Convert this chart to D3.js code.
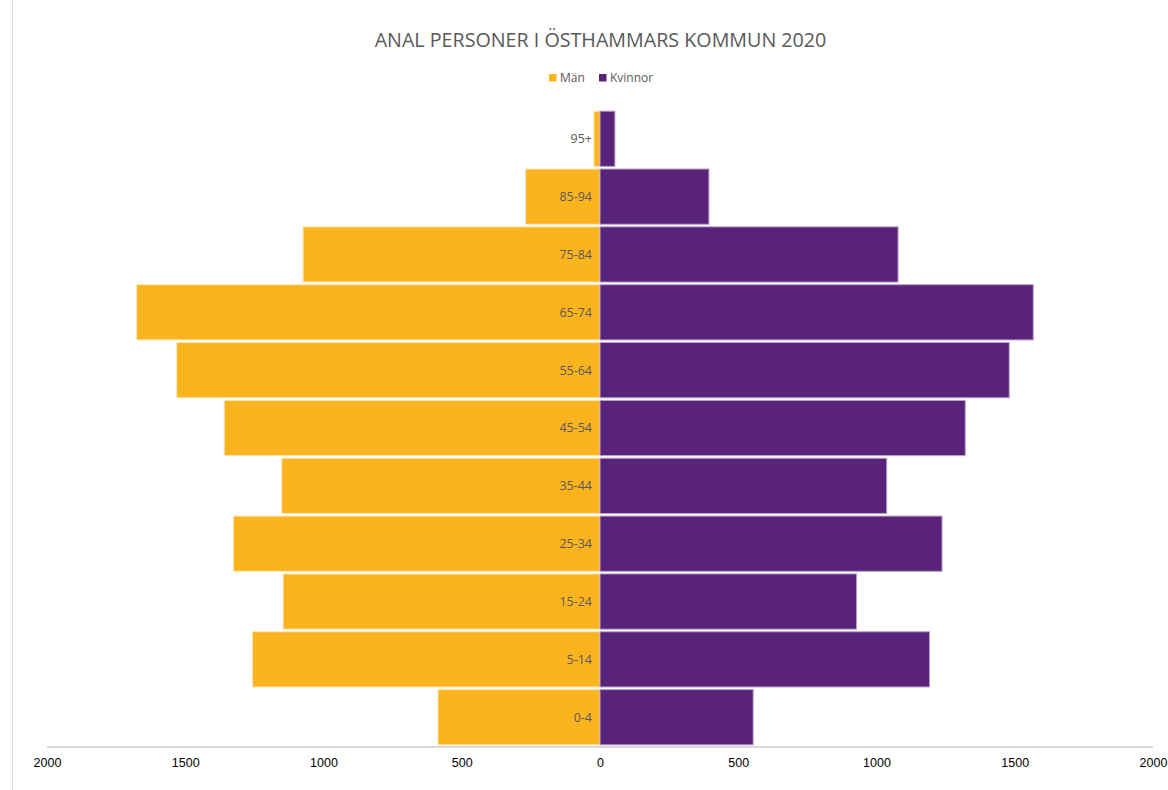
<!DOCTYPE html>
<html>
<head>
<meta charset="utf-8">
<script src="https://cdn.jsdelivr.net/npm/d3@7/dist/d3.min.js"></script>
<style>
  html, body { margin: 0; padding: 0; background: #fff; }
  svg { display: block; }
</style>
</head>
<body>
<svg id="chart" width="1168" height="790"></svg>
<script>
const title = "ANAL PERSONER I ÖSTHAMMARS KOMMUN 2020";
const categories = ["95+", "85-94", "75-84", "65-74", "55-64", "45-54", "35-44", "25-34", "15-24", "5-14", "0-4"];
const man = [22, 269, 1074, 1676, 1531, 1359, 1151, 1326, 1146, 1257, 586];
const kvinnor = [54, 394, 1078, 1567, 1480, 1321, 1037, 1237, 928, 1192, 554];
const seriesNames = ["Män", "Kvinnor"];
const tickValues = [-2000, -1500, -1000, -500, 0, 500, 1000, 1500, 2000];

const colors = { man: "#FBB41D", kvinnor: "#59237A" };
const svg = d3.select("#chart");

// chart frame line on the left
svg.append("line").attr("x1", 12.5).attr("x2", 12.5).attr("y1", 0).attr("y2", 790)
  .attr("stroke", "#d9d9d9").attr("stroke-width", 1);

const x = d3.scaleLinear().domain([-2000, 2000]).range([47, 1153]);
const y = d3.scaleBand().domain(categories).range([110, 746]).paddingInner(0.045).paddingOuter(0.02);

const rows = categories.map((c, i) => ({ cat: c, m: man[i], k: kvinnor[i] }));

svg.append("g").selectAll("rect").data(rows).join("rect")
  .attr("x", d => x(-d.m)).attr("width", d => x(0) - x(-d.m))
  .attr("y", d => y(d.cat)).attr("height", y.bandwidth())
  .attr("fill", colors.man).attr("stroke", "#fde8b8").attr("stroke-width", 1);

svg.append("g").selectAll("rect").data(rows).join("rect")
  .attr("x", x(0)).attr("width", d => x(d.k) - x(0))
  .attr("y", d => y(d.cat)).attr("height", y.bandwidth())
  .attr("fill", colors.kvinnor).attr("stroke", "#b9a2c9").attr("stroke-width", 1);

// category labels
svg.append("g").selectAll("text").data(categories).join("text")
  .attr("x", 592).attr("y", d => y(d) + y.bandwidth() / 2)
  .attr("dy", "0.35em").attr("text-anchor", "end")
  .attr("font-family", "'Open Sans', sans-serif").attr("font-size", 12.5)
  .attr("fill", "#595959").text(d => d);

// axis baseline
svg.append("line").attr("x1", x(-2000)).attr("x2", x(2000)).attr("y1", 747).attr("y2", 747)
  .attr("stroke", "#d9d9d9").attr("stroke-width", 2);

const axis = d3.axisBottom(x).tickValues(tickValues).tickFormat(d => Math.abs(d)).tickSize(0).tickPadding(0);
const ag = svg.append("g").attr("transform", "translate(0,748)").call(axis);
ag.select(".domain").remove();
ag.selectAll("text").attr("dy", null).attr("y", 19)
  .attr("font-family", "'Liberation Sans', Arial, sans-serif").attr("font-size", 12.5).attr("fill", "#000");

// title
svg.append("text").attr("x", 600.5).attr("y", 47).attr("text-anchor", "middle")
  .attr("font-family", "'Open Sans', sans-serif").attr("font-size", 19.7)
  .attr("fill", "#595959").text(title);

// legend
const legend = svg.append("g").attr("font-family", "'Open Sans', sans-serif").attr("font-size", 12).attr("fill", "#595959");
const legendItems = [
  { name: seriesNames[0], color: colors.man, sx: 549, tx: 560 },
  { name: seriesNames[1], color: colors.kvinnor, sx: 599, tx: 610 }
];
legend.selectAll("rect").data(legendItems).join("rect")
  .attr("x", d => d.sx).attr("y", 74).attr("width", 7.5).attr("height", 7.5).attr("fill", d => d.color);
legend.selectAll("text").data(legendItems).join("text")
  .attr("x", d => d.tx).attr("y", 82).text(d => d.name);
</script>
</body>
</html>
